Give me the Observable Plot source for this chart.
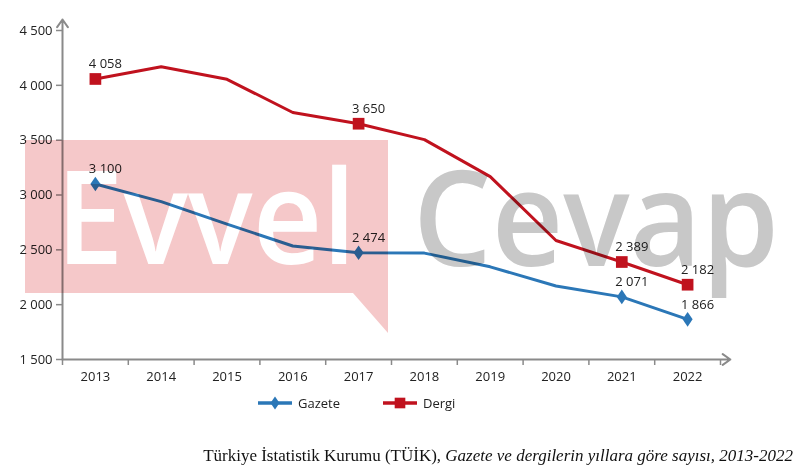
<!DOCTYPE html>
<html><head><meta charset="utf-8">
<script src="https://cdn.jsdelivr.net/npm/d3@7"></script>
<script src="https://cdn.jsdelivr.net/npm/@observablehq/plot@0.6"></script>
<style>
body{margin:0;background:#fff;}
#wrap{position:relative;width:800px;height:473px;overflow:hidden;font-family:"Open Sans",sans-serif;}
#chart svg{display:block;}
.leg{position:absolute;top:393px;height:20px;display:flex;align-items:center;font-size:13px;color:#222;}
.leg svg{display:block;margin-right:6px;}
#cap{position:absolute;right:7px;top:446px;line-height:20px;font-family:"Liberation Serif","Times New Roman",serif;font-size:17px;color:#111;white-space:nowrap;}
</style></head><body>
<div id="wrap">
<div id="chart"></div>
<div class="leg" id="leg0" style="left:258px"></div>
<div class="leg" id="leg1" style="left:383px"></div>
<div id="cap">Türkiye İstatistik Kurumu (TÜİK), <i>Gazete ve dergilerin yıllara göre sayısı, 2013-2022</i></div>
</div>
<script>
const years = [2013, 2014, 2015, 2016, 2017, 2018, 2019, 2020, 2021, 2022];
const gazete = [3100, 2940, 2735, 2535, 2474, 2470, 2345, 2170, 2071, 1866];
const dergi = [4058, 4170, 4055, 3752, 3650, 3505, 3168, 2585, 2389, 2182];
const labeledYears = [2013, 2017, 2021, 2022];
const yTicks = [1500, 2000, 2500, 3000, 3500, 4000, 4500];
const seriesNames = ["Gazete", "Dergi"];
const seriesColors = ["#2b77b7", "#c0121e"];
const xDomain = [2012.5, 2022.5];
const yDomain = [1500, 4500];

// custom wide diamond (marker of "Gazete")
const wideDiamond = {
  draw(context, size) {
    const r = Math.sqrt(size / Math.PI);
    const h = r * 1.3, w = r * 0.9;
    context.moveTo(0, -h); context.lineTo(w, 0); context.lineTo(0, h); context.lineTo(-w, 0); context.closePath();
  }
};
const seriesSymbols = [wideDiamond, d3.symbolSquare];

const fmt = d => d3.format(",")(d).replace(/,/g, " ");
const bounds = years.map(y => y - 0.5).concat([years[years.length - 1] + 0.5]);

const rows = [];
years.forEach((y, i) => {
  rows.push({series: "Gazete", year: y, value: gazete[i]});
  rows.push({series: "Dergi", year: y, value: dergi[i]});
});
const labeled = rows.filter(d => labeledYears.includes(d.year));
const axisGray = "#8a8a8a";

const chart = Plot.plot({
  width: 800,
  height: 390,
  marginLeft: 62,
  marginRight: 80,
  marginTop: 30,
  marginBottom: 31,
  style: {fontFamily: "Open Sans, sans-serif", fontSize: "13px", color: "#222", background: "white", overflow: "visible"},
  x: {type: "linear", domain: xDomain},
  y: {domain: yDomain},
  color: {domain: seriesNames, range: seriesColors},
  marks: [
    Plot.axisY({ticks: yTicks, tickSize: 6, tickPadding: 4, tickFormat: fmt, stroke: axisGray, strokeWidth: 1.5, fill: "#222", fontSize: 13, label: null}),
    Plot.axisX({ticks: years, tickSize: 0, tickPadding: 12, tickFormat: d => String(d), fill: "#222", fontSize: 13, label: null}),
    Plot.axisX({ticks: bounds, tickSize: 6, tickFormat: () => "", stroke: axisGray, strokeWidth: 1.5, label: null}),
    Plot.arrow([0], {x1: xDomain[0], x2: xDomain[0], y1: yDomain[0], y2: yDomain[1] + 100, stroke: axisGray, strokeWidth: 2, headLength: 7, headAngle: 70}),
    Plot.arrow([0], {x1: xDomain[0], x2: xDomain[1] + 0.15, y1: yDomain[0], y2: yDomain[0], stroke: axisGray, strokeWidth: 2, headLength: 7, headAngle: 70}),
    Plot.line(rows, {x: "year", y: "value", z: "series", stroke: "series", strokeWidth: 3, strokeLinejoin: "round"}),
    Plot.dot(labeled.filter(d => d.series === "Gazete"), {x: "year", y: "value", fill: seriesColors[0], symbol: seriesSymbols[0], r: 5.6}),
    Plot.dot(labeled.filter(d => d.series === "Dergi"), {x: "year", y: "value", fill: seriesColors[1], symbol: seriesSymbols[1], r: 6.6}),
    Plot.text(labeled, {x: "year", y: "value", text: d => fmt(d.value), dx: 10, dy: -15, fill: "#222", fontSize: 13})
  ]
});
document.getElementById("chart").appendChild(chart);

// watermark overlay (multiply blend)
const svg = d3.select(chart);
const wm = svg.append("g").style("mix-blend-mode", "multiply").attr("pointer-events", "none").attr("text-anchor", "start");
wm.append("polygon").attr("points", "25,140 388,140 388,333 353,293 25,293").attr("fill", "#f5c8c9");
wm.append("text").attr("x", 56).attr("y", 264).attr("textLength", 300).attr("lengthAdjust", "spacingAndGlyphs")
  .attr("font-family", "Open Sans, sans-serif").attr("font-weight", 600).attr("font-size", 130).attr("fill", "#fff").text("Evvel");
wm.append("text").attr("x", 413).attr("y", 266).attr("textLength", 366).attr("lengthAdjust", "spacingAndGlyphs")
  .attr("font-family", "Open Sans, sans-serif").attr("font-weight", 600).attr("font-size", 132).attr("fill", "#c8c8c8").text("Cevap");

// legend
seriesNames.forEach((name, i) => {
  const div = d3.select("#leg" + i);
  const s = div.append("svg").attr("width", 34).attr("height", 16);
  s.append("line").attr("x1", 0).attr("x2", 34).attr("y1", 8).attr("y2", 8).attr("stroke", seriesColors[i]).attr("stroke-width", 3.5);
  const r = i === 0 ? 5 : 6;
  s.append("path").attr("transform", "translate(17,8)").attr("d", d3.symbol(seriesSymbols[i], Math.PI * r * r)()).attr("fill", seriesColors[i]);
  div.append("span").text(name);
});
</script>
</body></html>
